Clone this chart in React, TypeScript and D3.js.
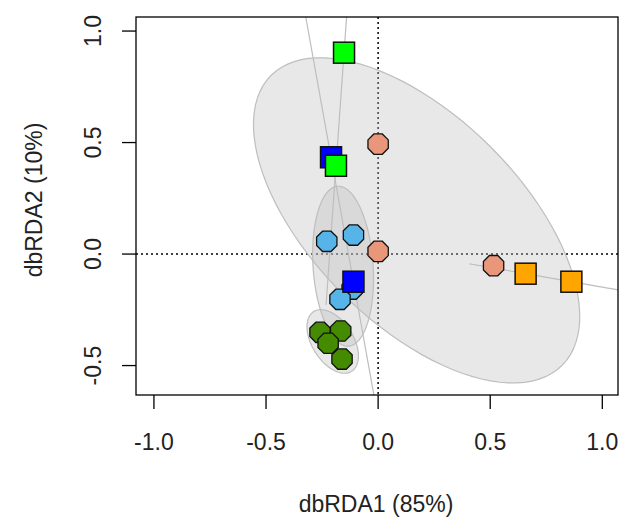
import * as d3 from "d3";

type Pt = [number, number];

// site scores (dbRDA1, dbRDA2)
const salmonSites: Pt[] = [[0.0, 0.493], [0.0, 0.012], [0.515, -0.052]];
const orangeSites: Pt[] = [[0.658, -0.088], [0.862, -0.124]];
const skySites: Pt[] = [[-0.229, 0.057], [-0.11, 0.085], [-0.116, -0.157], [-0.17, -0.203]];
const darkGreenSites: Pt[] = [[-0.259, -0.351], [-0.167, -0.345], [-0.223, -0.4], [-0.161, -0.471]];
const blueSites: Pt[] = [[-0.21, 0.434], [-0.11, -0.124]];
const limeSites: Pt[] = [[-0.152, 0.903], [-0.188, 0.396]];

const xTicks = [-1, -0.5, 0, 0.5, 1];
const yTicks = [-0.5, 0, 0.5, 1];
const xTitle = "dbRDA1 (85%)";
const yTitle = "dbRDA2 (10%)";

const groups = [
  { key: "salmon", shape: "circle", fill: "#E9967A", pts: salmonSites },
  { key: "sky", shape: "circle", fill: "#56B4E9", pts: skySites },
  { key: "dkgreen", shape: "circle", fill: "#458B00", pts: darkGreenSites },
  { key: "orange", shape: "square", fill: "#FFA500", pts: orangeSites },
  { key: "blue", shape: "square", fill: "#0000FF", pts: blueSites },
  { key: "lime", shape: "square", fill: "#00FF00", pts: limeSites },
];

const W = 621;
const H = 518;
const plot = { left: 136, right: 618, top: 17, bottom: 395 };
const chi2 = 5.991; // qchisq(0.95, 2)

// sd ellipse at 95% like ordiellipse(kind = "sd", conf = 0.95)
function ellipse(pts: Pt[]): Pt[] {
  const n = pts.length;
  const mx = d3.mean(pts, (p) => p[0])!;
  const my = d3.mean(pts, (p) => p[1])!;
  let sxx = 0, syy = 0, sxy = 0;
  pts.forEach(([x, y]) => {
    sxx += (x - mx) ** 2;
    syy += (y - my) ** 2;
    sxy += (x - mx) * (y - my);
  });
  sxx /= n - 1; syy /= n - 1; sxy /= n - 1;
  const half = (sxx + syy) / 2;
  const disc = Math.sqrt(((sxx - syy) / 2) ** 2 + sxy * sxy);
  const l1 = Math.max(half + disc, 0);
  const l2 = Math.max(half - disc, 0);
  const th = 0.5 * Math.atan2(2 * sxy, sxx - syy);
  const a = Math.sqrt(l1 * chi2);
  const b = Math.sqrt(l2 * chi2);
  return d3.range(100).map((i) => {
    const t = (i / 100) * 2 * Math.PI;
    const u = a * Math.cos(t);
    const v = b * Math.sin(t);
    return [mx + u * Math.cos(th) - v * Math.sin(th), my + u * Math.sin(th) + v * Math.cos(th)] as Pt;
  });
}

function octagon(cx: number, cy: number, r: number) {
  return d3.range(8).map((i) => {
    const a = Math.PI / 8 + (i * Math.PI) / 4;
    return `${cx + r * Math.cos(a)},${cy + r * Math.sin(a)}`;
  }).join(" ");
}

export default function App() {
  const x = d3.scaleLinear().domain([-1.08, 1.07]).range([plot.left, plot.right]);
  const y = d3.scaleLinear().domain([-0.632, 1.063]).range([plot.bottom, plot.top]);
  const line = d3.line<Pt>().x((d) => x(d[0])).y((d) => y(d[1])).curve(d3.curveLinearClosed);
  const font = "'Liberation Sans', Arial, sans-serif";

  return (
    <svg width={W} height={H} style={{ position: "absolute", left: 0, top: 0, background: "#fff" }} fontFamily={font}>
      <defs>
        <clipPath id="plotClip">
          <rect x={plot.left} y={plot.top} width={plot.right - plot.left} height={plot.bottom - plot.top} />
        </clipPath>
      </defs>
      <g clipPath="url(#plotClip)">
        {/* zero lines */}
        <line x1={x(0)} x2={x(0)} y1={plot.top} y2={plot.bottom} stroke="#000" strokeWidth={1.5} strokeDasharray="2 3" />
        <line x1={plot.left} x2={plot.right} y1={y(0)} y2={y(0)} stroke="#000" strokeWidth={1.5} strokeDasharray="2 3" />
        {/* group ellipses */}
        {groups.map((g) => (
          <path key={"e" + g.key} d={line(ellipse(g.pts)) || ""} fill="#BEBEBE" fillOpacity={0.35} stroke="#BEBEBE" strokeWidth={1.2} />
        ))}
        {/* sites */}
        {groups.map((g) =>
          g.pts.map((p, i) =>
            g.shape === "circle" ? (
              <polygon key={g.key + i} points={octagon(x(p[0]), y(p[1]), 11)} fill={g.fill} stroke="#111" strokeWidth={1.3} />
            ) : (
              <rect key={g.key + i} x={x(p[0]) - 10.5} y={y(p[1]) - 10.5} width={21} height={21} fill={g.fill} stroke="#111" strokeWidth={1.5} />
            )
          )
        )}
      </g>
      <rect x={plot.left} y={plot.top} width={plot.right - plot.left} height={plot.bottom - plot.top} fill="none" stroke="#000" strokeWidth={1.3} />

      {/* x axis */}
      {xTicks.map((t) => (
        <g key={"x" + t}>
          <line x1={x(t)} x2={x(t)} y1={plot.bottom} y2={plot.bottom + 14} stroke="#000" strokeWidth={1.3} />
          <text x={x(t)} y={450} textAnchor="middle" fontSize={23} fill="#222">{t.toFixed(1)}</text>
        </g>
      ))}
      {/* y axis */}
      {yTicks.map((t) => (
        <g key={"y" + t}>
          <line x1={plot.left - 14} x2={plot.left} y1={y(t)} y2={y(t)} stroke="#000" strokeWidth={1.3} />
          <text transform={`translate(101,${y(t)}) rotate(-90)`} textAnchor="middle" fontSize={23} fill="#222">{t.toFixed(1)}</text>
        </g>
      ))}
      <text x={376} y={512} textAnchor="middle" fontSize={23} fill="#222">{xTitle}</text>
      <text transform="translate(41.5,200) rotate(-90)" textAnchor="middle" fontSize={23} fill="#222">{yTitle}</text>
    </svg>
  );
}
